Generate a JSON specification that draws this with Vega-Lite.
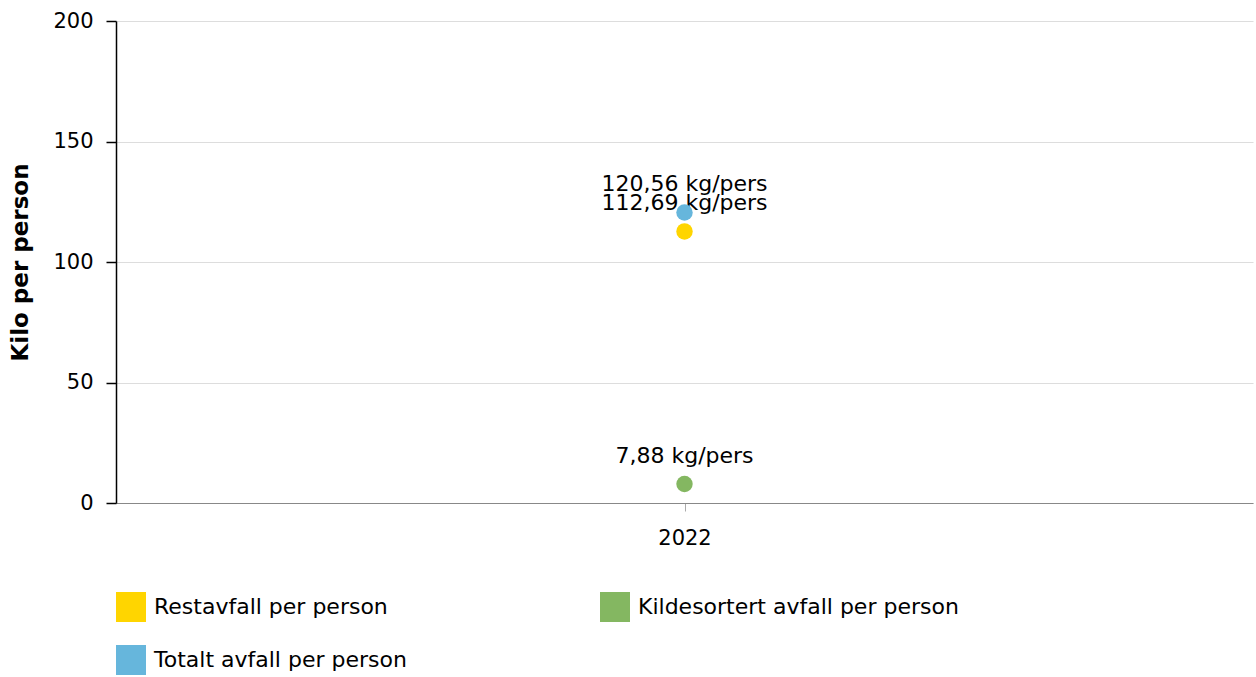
{
  "$schema": "https://vega.github.io/schema/vega-lite/v6.json",
  "width": 1137,
  "height": 482,
  "autosize": {"type": "none"},
  "padding": {"left": 116, "top": 21, "right": 3, "bottom": 174},
  "config": {
    "font": "DejaVu Sans",
    "view": {"stroke": null},
    "axis": {"labelFont": "DejaVu Sans", "titleFont": "DejaVu Sans"}
  },
  "data": {
    "values": [
      {"year": "2022", "serie": "Restavfall per person", "value": 112.69},
      {"year": "2022", "serie": "Kildesortert avfall per person", "value": 7.88},
      {"year": "2022", "serie": "Totalt avfall per person", "value": 120.56}
    ]
  },
  "transform": [
    {"calculate": "replace(format(datum.value, '.2f'), '.', ',') + ' kg/pers'", "as": "label"}
  ],
  "encoding": {
    "x": {
      "field": "year", "type": "ordinal",
      "scale": {"type": "point"},
      "axis": {
        "title": null, "labelAngle": 0, "labelFontSize": 21, "labelColor": "#000",
        "domainColor": "#888", "tickColor": "#aaa", "tickSize": 8, "labelPadding": 16,
        "grid": false
      }
    },
    "y": {
      "field": "value", "type": "quantitative",
      "scale": {"domain": [0, 200]},
      "axis": {
        "title": "Kilo per person", "titleFontSize": 23, "titleFontWeight": "bold", "titleColor": "#000",
        "titlePadding": 20,
        "values": [0, 50, 100, 150, 200],
        "labelFontSize": 21, "labelColor": "#000", "labelPadding": 13,
        "domainColor": "#000", "domainWidth": 1.5, "tickColor": "#000", "tickSize": 10, "tickWidth": 1.5,
        "gridColor": "#dddddd"
      }
    },
    "color": {
      "field": "serie", "type": "nominal",
      "sort": ["Restavfall per person", "Kildesortert avfall per person", "Totalt avfall per person"],
      "scale": {
        "domain": ["Restavfall per person", "Kildesortert avfall per person", "Totalt avfall per person"],
        "range": ["#ffd500", "#84b761", "#66b6dc"]
      },
      "legend": {
        "title": null, "orient": "none", "legendX": 0, "legendY": 571,
        "direction": "horizontal", "columns": 2, "gridAlign": "all",
        "symbolType": "square", "symbolSize": 900, "symbolStrokeWidth": 0, "symbolOpacity": 1,
        "labelFontSize": 22, "labelColor": "#000", "labelOffset": 8, "labelLimit": 500,
        "columnPadding": 125, "rowPadding": 23
      }
    }
  },
  "layer": [
    {
      "mark": {"type": "text", "fontSize": 22, "baseline": "middle", "dy": -28, "color": "#000"},
      "encoding": {"text": {"field": "label"}, "color": {"value": "#000"}}
    },
    {
      "mark": {"type": "circle", "size": 270, "opacity": 1}
    }
  ]
}
